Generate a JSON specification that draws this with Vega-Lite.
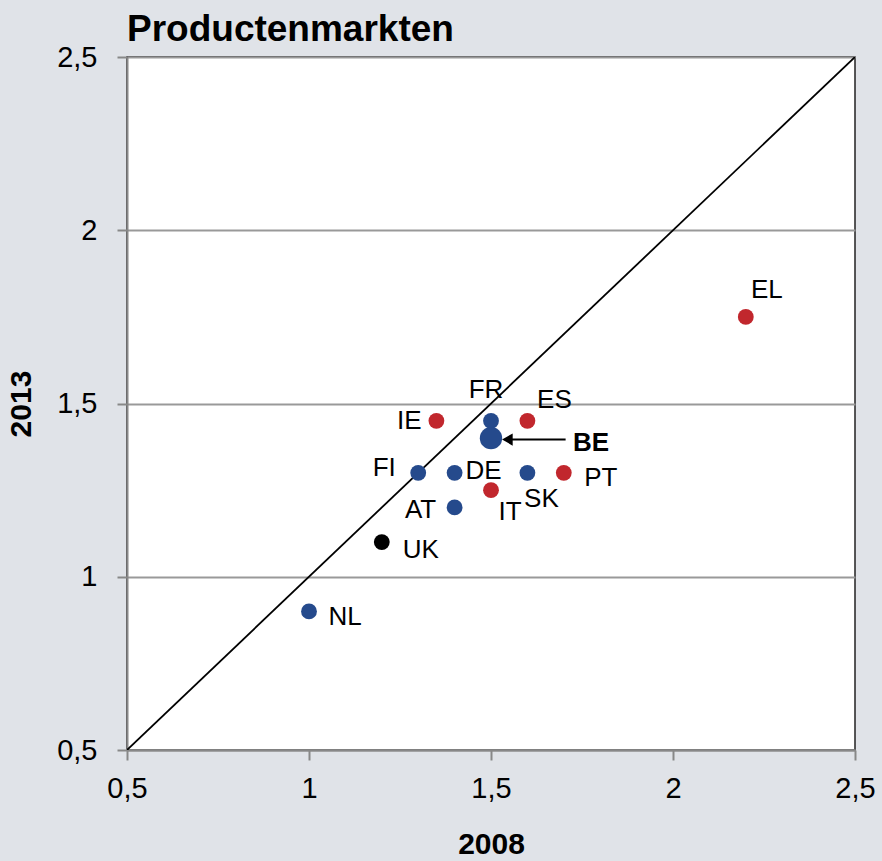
{
  "$schema": "https://vega.github.io/schema/vega-lite/v6.json",
  "width": 728,
  "height": 693,
  "autosize": {"type": "none"},
  "padding": {"left": 127, "top": 57, "right": 27, "bottom": 111},
  "background": "#e0e3e8",
  "config": {
    "view": {"fill": "white", "stroke": "#222222", "strokeWidth": 1.5},
    "font": "Liberation Sans",
    "text": {"font": "Liberation Sans", "fontSize": 26, "color": "black"}
  },
  "title": {
    "text": "Productenmarkten",
    "anchor": "start",
    "frame": "group",
    "font": "Liberation Sans",
    "fontSize": 37,
    "fontWeight": "bold",
    "color": "black",
    "baseline": "alphabetic",
    "offset": 0,
    "dy": 35
  },
  "datasets": {
    "pts": [
      {"c": "EL", "x2008": 2.2, "y2013": 1.75, "g": "rood"},
      {"c": "IE", "x2008": 1.35, "y2013": 1.45, "g": "rood"},
      {"c": "FR", "x2008": 1.5, "y2013": 1.45, "g": "blauw"},
      {"c": "ES", "x2008": 1.6, "y2013": 1.45, "g": "rood"},
      {"c": "FI", "x2008": 1.3, "y2013": 1.3, "g": "blauw"},
      {"c": "DE", "x2008": 1.4, "y2013": 1.3, "g": "blauw"},
      {"c": "SK", "x2008": 1.6, "y2013": 1.3, "g": "blauw"},
      {"c": "PT", "x2008": 1.7, "y2013": 1.3, "g": "rood"},
      {"c": "IT", "x2008": 1.5, "y2013": 1.25, "g": "rood"},
      {"c": "AT", "x2008": 1.4, "y2013": 1.2, "g": "blauw"},
      {"c": "UK", "x2008": 1.2, "y2013": 1.1, "g": "zwart"},
      {"c": "NL", "x2008": 1.0, "y2013": 0.9, "g": "blauw"},
      {"c": "BE", "x2008": 1.5, "y2013": 1.4, "g": "be"}
    ],
    "diag": [{"x2008": 0.5, "y2013": 0.5}, {"x2008": 2.5, "y2013": 2.5}],
    "arrow": [{"xa": 1.545, "xb": 1.705, "y2013": 1.396}]
  },
  "encoding": {
    "x": {
      "field": "x2008", "type": "quantitative",
      "scale": {"domain": [0.5, 2.5], "nice": false, "zero": false},
      "axis": {
        "title": "2008", "values": [0.5, 1, 1.5, 2, 2.5],
        "labelExpr": "datum.value % 1 == 0 ? format(datum.value, 'd') : replace(format(datum.value, '.1f'), '.', ',')",
        "labelFlush": false, "labelOverlap": false,
        "grid": false, "domainColor": "#888888", "domainWidth": 2,
        "tickColor": "#888888", "tickSize": 10, "tickWidth": 2,
        "labelFontSize": 29, "labelColor": "black", "labelPadding": 14, "labelFont": "Liberation Sans",
        "titleFontSize": 30, "titleFontWeight": "bold", "titleColor": "black", "titlePadding": 26, "titleFont": "Liberation Sans"
      }
    },
    "y": {
      "field": "y2013", "type": "quantitative",
      "scale": {"domain": [0.5, 2.5], "nice": false, "zero": false},
      "axis": {
        "title": "2013", "values": [0.5, 1, 1.5, 2, 2.5],
        "labelExpr": "datum.value % 1 == 0 ? format(datum.value, 'd') : replace(format(datum.value, '.1f'), '.', ',')",
        "labelFlush": false, "labelOverlap": false,
        "grid": true, "gridColor": "#999999", "gridWidth": 2,
        "domainColor": "#888888", "domainWidth": 2,
        "tickColor": "#888888", "tickSize": 10, "tickWidth": 2,
        "labelFontSize": 29, "labelColor": "black", "labelPadding": 20, "labelFont": "Liberation Sans",
        "titleFontSize": 30, "titleFontWeight": "bold", "titleColor": "black", "titlePadding": 20, "titleFont": "Liberation Sans"
      }
    }
  },
  "layer": [
    {
      "data": {"name": "diag"},
      "mark": {"type": "line", "color": "black", "strokeWidth": 1.8, "clip": true},
      "encoding": {}
    },
    {
      "data": {"name": "pts"},
      "transform": [{"filter": "datum.c != 'BE'"}],
      "mark": {"type": "circle", "opacity": 1, "size": 250},
      "encoding": {
        "color": {
          "field": "g", "type": "nominal", "legend": null,
          "scale": {"domain": ["rood", "blauw", "zwart", "be"], "range": ["#c1272d", "#254a8c", "#000000", "#254a8c"]}
        }
      }
    },
    {
      "data": {"name": "pts"},
      "transform": [{"filter": "datum.c == 'BE'"}],
      "mark": {"type": "circle", "opacity": 1, "size": 500, "color": "#254a8c"},
      "encoding": {}
    },
    {
      "data": {"name": "arrow"},
      "mark": {"type": "rule", "color": "black", "strokeWidth": 2},
      "encoding": {"x": {"field": "xa", "type": "quantitative"}, "x2": {"field": "xb"}}
    },
    {
      "data": {"name": "arrow"},
      "mark": {"type": "point", "shape": "triangle-left", "filled": true, "color": "black", "size": 150, "opacity": 1},
      "encoding": {"x": {"field": "xa", "type": "quantitative"}}
    },
    {
      "data": {"name": "pts"},
      "transform": [{"filter": "datum.c == 'BE'"}],
      "mark": {"type": "text", "fontWeight": "bold", "fontSize": 26, "dx": 100, "dy": 5},
      "encoding": {"text": {"field": "c"}}
    },
    {"data": {"name": "pts"}, "transform": [{"filter": "datum.c == 'EL'"}], "mark": {"type": "text", "dx": 21, "dy": -27}, "encoding": {"text": {"field": "c"}}},
    {"data": {"name": "pts"}, "transform": [{"filter": "datum.c == 'IE'"}], "mark": {"type": "text", "dx": -27, "dy": 0}, "encoding": {"text": {"field": "c"}}},
    {"data": {"name": "pts"}, "transform": [{"filter": "datum.c == 'FR'"}], "mark": {"type": "text", "dx": -5, "dy": -31}, "encoding": {"text": {"field": "c"}}},
    {"data": {"name": "pts"}, "transform": [{"filter": "datum.c == 'ES'"}], "mark": {"type": "text", "dx": 27, "dy": -21}, "encoding": {"text": {"field": "c"}}},
    {"data": {"name": "pts"}, "transform": [{"filter": "datum.c == 'FI'"}], "mark": {"type": "text", "dx": -34, "dy": -5}, "encoding": {"text": {"field": "c"}}},
    {"data": {"name": "pts"}, "transform": [{"filter": "datum.c == 'DE'"}], "mark": {"type": "text", "dx": 29, "dy": -2}, "encoding": {"text": {"field": "c"}}},
    {"data": {"name": "pts"}, "transform": [{"filter": "datum.c == 'SK'"}], "mark": {"type": "text", "dx": 14, "dy": 26}, "encoding": {"text": {"field": "c"}}},
    {"data": {"name": "pts"}, "transform": [{"filter": "datum.c == 'PT'"}], "mark": {"type": "text", "dx": 37, "dy": 5}, "encoding": {"text": {"field": "c"}}},
    {"data": {"name": "pts"}, "transform": [{"filter": "datum.c == 'IT'"}], "mark": {"type": "text", "dx": 19, "dy": 22}, "encoding": {"text": {"field": "c"}}},
    {"data": {"name": "pts"}, "transform": [{"filter": "datum.c == 'AT'"}], "mark": {"type": "text", "dx": -34, "dy": 3}, "encoding": {"text": {"field": "c"}}},
    {"data": {"name": "pts"}, "transform": [{"filter": "datum.c == 'UK'"}], "mark": {"type": "text", "dx": 39, "dy": 8}, "encoding": {"text": {"field": "c"}}},
    {"data": {"name": "pts"}, "transform": [{"filter": "datum.c == 'NL'"}], "mark": {"type": "text", "dx": 36, "dy": 6}, "encoding": {"text": {"field": "c"}}}
  ]
}
